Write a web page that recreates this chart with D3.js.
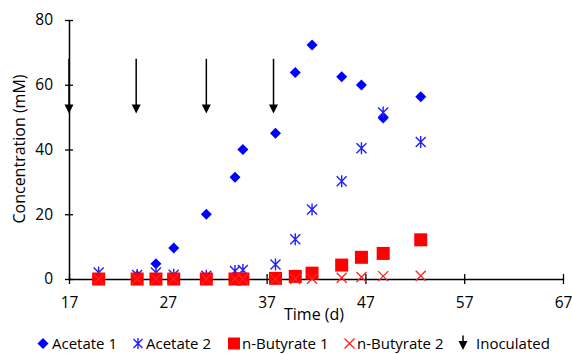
<!DOCTYPE html>
<html><head><meta charset="utf-8">
<script src="https://cdn.jsdelivr.net/npm/d3@7"></script>
<style>body{margin:0;background:#fff}svg{display:block}text{font-family:"Open Sans",Lato,sans-serif;fill:#000}</style>
</head><body>
<svg id="c" width="572" height="354"></svg>
<script>
const days = [20, 23.9, 25.8, 27.6, 30.9, 33.8, 34.6, 37.9, 39.9, 41.6, 44.6, 46.6, 48.8, 52.6];
const acetate1 = [0, 1, 4.7, 9.6, 20, 31.4, 40, 45, 63.8, 72.3, 62.5, 59.9, 49.7, 56.3];
const acetate2 = [2, 1.2, 2, 1.3, 1, 2.5, 2.8, 4.5, 12.3, 21.5, 30.2, 40.4, 51.4, 42.3];
const butyrate1 = [0, 0, 0, 0, 0, 0, 0, 0.2, 0.8, 1.8, 4.3, 6.7, 7.9, 12.1];
const butyrate2 = [0, 0, 0, 0, 0, 0, 0, 0, 0, 0.1, 0.4, 0.6, 0.9, 1.0];
const inocDays = [17, 23.8, 30.9, 37.7];
const inocLevel = 52.5;
const inocTop = 68;
const xTicks = [17, 27, 37, 47, 57, 67];
const yTicks = [0, 20, 40, 60, 80];
const seriesNames = ["Acetate 1", "Acetate 2", "n-Butyrate 1", "n-Butyrate 2", "Inoculated"];

const svg = d3.select("#c");
const x = d3.scaleLinear().domain([17, 67]).range([69, 563]);
const y = d3.scaleLinear().domain([0, 80]).range([279, 20]);

// axes
const yAx = svg.append("g").attr("transform", `translate(${x(17)},0)`)
  .call(d3.axisLeft(y).tickValues(yTicks).tickSizeInner(4).tickSizeOuter(0).tickPadding(12));
yAx.selectAll(".tick line").attr("x2", 4).attr("x1", -4).attr("stroke", "#000").attr("stroke-width", 1.3);
yAx.select(".domain").attr("stroke", "#000").attr("stroke-width", 1.5);
yAx.selectAll("text").style("font-size", "15.5px").style("font-family", "Open Sans").attr("x", -16);

const xAx = svg.append("g").attr("transform", `translate(0,${y(0)})`)
  .call(d3.axisBottom(x).tickValues(xTicks).tickSizeInner(4).tickSizeOuter(0).tickPadding(12));
xAx.selectAll(".tick line").attr("y1", -5).attr("y2", 5).attr("stroke", "#000").attr("stroke-width", 1.3);
xAx.select(".domain").attr("stroke", "#000").attr("stroke-width", 1.5);
xAx.selectAll("text").style("font-size", "15.5px").style("font-family", "Open Sans").attr("y", 18).attr("dy", "0.71em");

// titles
svg.append("text").attr("x", 314).attr("y", 320).attr("text-anchor", "middle")
  .style("font-size", "16px").text("Time (d)");
svg.append("text").attr("transform", "translate(25,149) rotate(-90)").attr("text-anchor", "middle")
  .style("font-size", "16px").text("Concentration (mM)");

// marker painters
function diamond(g, cx, cy, s) {
  g.append("path").attr("d", `M${cx},${cy - s}L${cx + s},${cy}L${cx},${cy + s}L${cx - s},${cy}Z`).attr("fill", "#0000ff");
}
function star(g, cx, cy, s) {
  g.append("path").attr("d", `M${cx - s},${cy - s}L${cx + s},${cy + s}M${cx - s},${cy + s}L${cx + s},${cy - s}M${cx},${cy - s - 1}L${cx},${cy + s + 1}`)
    .attr("stroke", "#2020ff").attr("stroke-width", 1.4).attr("fill", "none");
}
function square(g, cx, cy, s) {
  g.append("rect").attr("x", cx - s).attr("y", cy - s).attr("width", 2 * s).attr("height", 2 * s).attr("fill", "#ff0000");
}
function cross(g, cx, cy, s) {
  g.append("path").attr("d", `M${cx - s},${cy - s}L${cx + s},${cy + s}M${cx - s},${cy + s}L${cx + s},${cy - s}`)
    .attr("stroke", "#ff2020").attr("stroke-width", 1.3).attr("fill", "none");
}
function arrowHead(g, cx, cy, s) {
  g.append("path").attr("d", `M${cx - s},${cy - s}L${cx + s},${cy - s}L${cx},${cy + s}Z`).attr("fill", "#000");
}

const gA1 = svg.append("g"), gA2 = svg.append("g"), gB1 = svg.append("g"), gB2 = svg.append("g"), gI = svg.append("g");
days.forEach((d, i) => diamond(gA1, x(d), y(acetate1[i]), 5.5));
days.forEach((d, i) => star(gA2, x(d), y(acetate2[i]), 5));
days.forEach((d, i) => square(gB1, x(d), y(butyrate1[i]), 6.5));
days.forEach((d, i) => cross(gB2, x(d), y(butyrate2[i]), 5));
inocDays.forEach(d => {
  gI.append("line").attr("x1", x(d)).attr("x2", x(d)).attr("y1", y(inocTop)).attr("y2", y(inocLevel))
    .attr("stroke", "#000").attr("stroke-width", 1.5);
  arrowHead(gI, x(d), y(inocLevel), 4.5);
});

// legend
const leg = svg.append("g");
const legY = 343.5;
const legItems = [
  {mx: 43, tx: 52, f: diamond, s: 5.5},
  {mx: 138, tx: 146, f: star, s: 4.5},
  {mx: 234, tx: 242, f: square, s: 6},
  {mx: 349.5, tx: 357, f: cross, s: 5},
  {mx: 463, tx: 476, f: null, s: 4}
];
legItems.forEach((it, i) => {
  if (it.f) it.f(leg, it.mx, legY, it.s);
  else {
    leg.append("line").attr("x1", it.mx).attr("x2", it.mx).attr("y1", legY - 8).attr("y2", legY + 2).attr("stroke", "#000").attr("stroke-width", 1.5);
    arrowHead(leg, it.mx, legY + 2, 4.5);
  }
  leg.append("text").attr("x", it.tx).attr("y", legY + 5.2).style("font-size", "15px").text(seriesNames[i]);
});
</script>
</body></html>
